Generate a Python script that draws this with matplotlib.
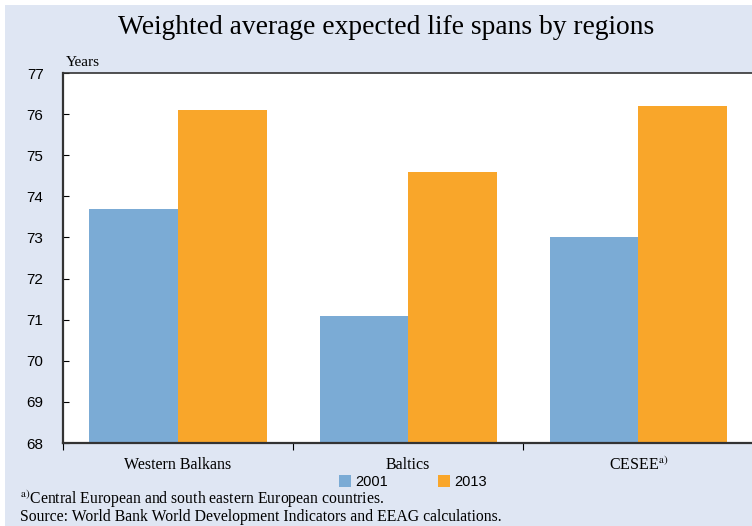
import matplotlib
matplotlib.use('Agg')
import matplotlib.pyplot as plt
from matplotlib.patches import Rectangle
import numpy as np

regions = ['Western Balkans', 'Baltics', 'CESEE$^{\\mathrm{a)}}$']
years = ['2001', '2013']
life_2001 = [73.7, 71.1, 73.0]
life_2013 = [76.1, 74.6, 76.2]

BLUE = '#7BABD5'
ORANGE = '#F9A62A'
BG = '#DFE6F3'
SERIF = 'Liberation Serif'
SANS = 'Liberation Sans'

plt.rcParams['mathtext.fontset'] = 'stix'

fig = plt.figure(figsize=(7.52, 5.26), dpi=100, facecolor='white')
# light panel behind everything, leaving a thin white margin top/left
fig.patches.append(Rectangle((5 / 752, 0), 1, 1 - 5 / 526, transform=fig.transFigure,
                             facecolor=BG, edgecolor='none', zorder=-10))

ax = fig.add_axes([63 / 752, 1 - 443 / 526, 0.918, (443 - 73) / 526])
ax.set_facecolor('white')

x = np.arange(len(regions))
w = 0.385
ax.bar(x - w / 2, life_2001, w, color=BLUE, label=years[0], zorder=2)
ax.bar(x + w / 2, life_2013, w, color=ORANGE, label=years[1], zorder=2)

ax.set_ylim(68, 77)
ax.set_xlim(-0.5, len(regions) - 0.5)
ax.set_yticks(np.arange(68, 78, 1))
ax.tick_params(axis='y', direction='in', length=4, pad=14, labelsize=11)
for lab in ax.get_yticklabels():
    lab.set_fontfamily(SANS)

# group boundaries as ticks, names centred under groups
ax.set_xticks(np.arange(-0.5, len(regions), 1))
ax.set_xticklabels([])
ax.tick_params(axis='x', which='major', direction='out', length=5)
ax.set_xticks(x, minor=True)
ax.set_xticklabels(regions, minor=True, fontfamily=SERIF, fontsize=11.5)
ax.tick_params(axis='x', which='minor', length=0, pad=10)

for s in ax.spines.values():
    s.set_color('#333333')
    s.set_linewidth(1.2)
ax.spines['left'].set_linewidth(1.6)
ax.spines['bottom'].set_linewidth(1.6)
ax.spines['right'].set_visible(False)

fig.text(66 / 752, 1 - 62 / 526, 'Years', fontfamily=SERIF, fontsize=11,
         va='center', ha='left')
fig.text(0.513, 1 - 27 / 526, 'Weighted average expected life spans by regions',
         fontfamily=SERIF, fontsize=19.8, ha='center', va='center')

leg = fig.legend(loc='center', bbox_to_anchor=(413 / 752, 1 - 482 / 526), ncol=2,
                 frameon=False, prop={'family': SANS, 'size': 10.5},
                 handlelength=0.8, handleheight=0.8, handletextpad=0.3,
                 columnspacing=3.4, borderpad=0.0)

fig.text(20 / 752, 1 - 499 / 526, '$^{\\mathrm{a)}}$Central European and south eastern European countries.',
         fontfamily=SERIF, fontsize=11.3, va='center', ha='left')
fig.text(20 / 752, 1 - 517 / 526, 'Source: World Bank World Development Indicators and EEAG calculations.',
         fontfamily=SERIF, fontsize=11.3, va='center', ha='left')

fig.savefig('out.png', dpi=100, facecolor=fig.get_facecolor())
